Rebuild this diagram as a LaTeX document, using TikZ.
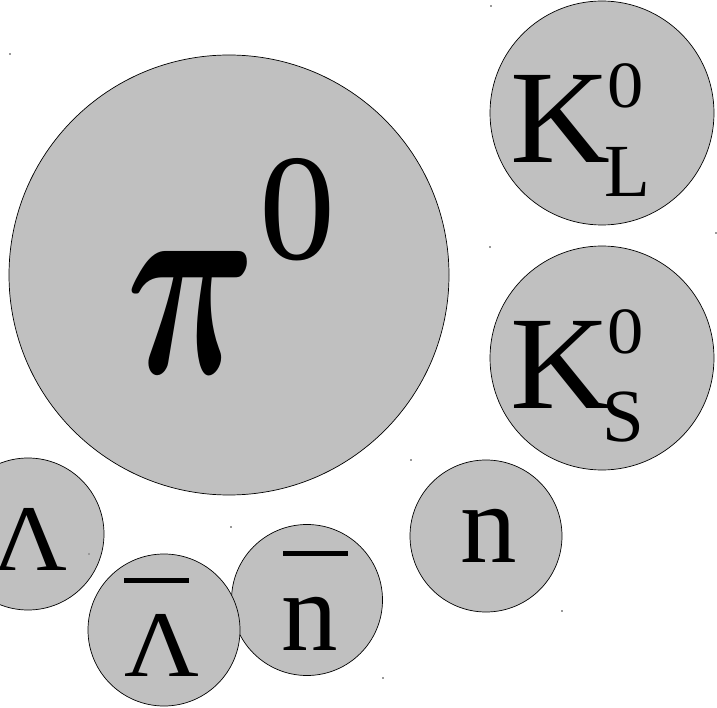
\documentclass[tikz,border=0pt]{standalone}
\usepackage{amsmath}
\usepackage{graphicx}
\usepackage{fontspec}
\setmainfont{Liberation Serif}
\begin{document}
\begin{tikzpicture}[x=1pt,y=-1pt,
  ball/.style={circle,draw=black,line width=0.7pt,fill=ballgray,inner sep=0pt},
  lbl/.style={inner sep=0pt,anchor=base west,text=black},
  speck/.style={fill=gray!80}]
\definecolor{ballgray}{RGB}{192,192,192}
\useasboundingbox (0,0) rectangle (717,708);
\fill[white] (0,0) rectangle (717,708);
% balls
\node[ball,minimum size=440pt] (pi) at (229,275) {};
\node[ball,minimum size=224pt] (kl) at (602,113) {};
\node[ball,minimum size=224pt] (ks) at (602,358) {};
\node[ball,minimum size=152pt] (n) at (486,536) {};
\node[ball,minimum size=151pt] (nb) at (307,600) {};
\node[ball,minimum size=152pt] (lb) at (164,630) {};
\node[ball,minimum size=152pt] (l) at (28,534) {};
% pi0
\node[inner sep=0pt,anchor=south west] (pisym) at (126,374) {\resizebox{130pt}{122pt}{$\boldsymbol{\pi}$}};
\node[lbl] (pizero) at (259,260) {\fontsize{152}{152}\selectfont 0};
% K_L
\node[lbl] (klK) at (510,163) {\fontsize{133}{133}\selectfont\scalebox{1.04}[1]{K}};
\node[lbl] (klz) at (607,108) {\fontsize{66}{66}\selectfont\scalebox{1.1}[1]{0}};
\node[lbl] (klL) at (604,197) {\fontsize{75}{75}\selectfont L};
% K_S
\node[lbl] (ksK) at (510,408) {\fontsize{133}{133}\selectfont\scalebox{1.04}[1]{K}};
\node[lbl] (ksz) at (607,353) {\fontsize{66}{66}\selectfont\scalebox{1.1}[1]{0}};
\node[lbl] (ksS) at (602,441) {\fontsize{75}{75}\selectfont S};
% n
\node[lbl] (nt) at (460,562) {\fontsize{113}{113}\selectfont n};
% nbar
\node[lbl] (nbt) at (281,650) {\fontsize{113}{113}\selectfont n};
\fill (283,551) rectangle (348,556);
% Lambda bar
\node[lbl] (lbt) at (124,676) {\fontsize{94}{94}\selectfont\scalebox{1.1}[1]{Λ}};
\fill (124,578) rectangle (189,583);
% Lambda
\node[lbl] (lt) at (-8,570) {\fontsize{94}{94}\selectfont\scalebox{1.1}[1]{Λ}};
% specks
\foreach \p in {(10,54),(491,6),(490,247),(411,460),(231,527),(562,611),(383,678),(89,554),(716,233)}
  \fill[speck] \p ++(-0.8,-0.8) rectangle ++(1.6,1.6);
\end{tikzpicture}
\end{document}
